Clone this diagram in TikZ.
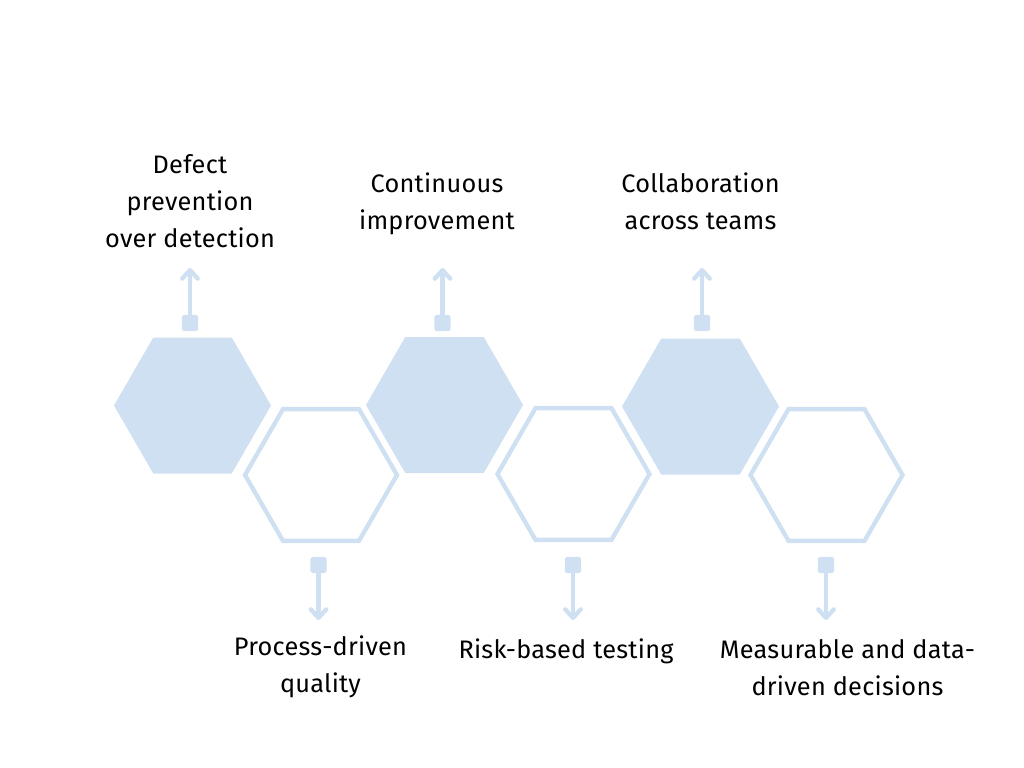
\documentclass[tikz,border=0pt]{standalone}
\usepackage{fontspec}
\setmainfont[LetterSpace=1]{Fira Sans}
\usetikzlibrary{arrows.meta,shapes.geometric}
\definecolor{hexblue}{HTML}{CFE0F2}
\tikzset{
    hexfull/.style={regular polygon, regular polygon sides=6, minimum size=157*0.7113pt, inner sep=0pt, outer sep=0pt, fill=hexblue},
    hexline/.style={regular polygon, regular polygon sides=6, minimum size=152*0.7113pt, inner sep=0pt, outer sep=0pt, draw=hexblue, line width=3.1pt},
    pin/.style={rectangle, rounded corners=1.2pt, minimum size=11.4pt, inner sep=0pt, outer sep=0pt, fill=hexblue},
    lead/.style={draw=hexblue, line width=2.9pt, -{Straight Barb[round,length=6pt,width=11pt,line width=3.1pt]}},
    label/.style={align=center, text=black, font=\fontsize{18}{26.3}\selectfont}
}
\begin{document}
\begin{tikzpicture}[x=0.025cm,y=-0.025cm]
    \useasboundingbox (0,0) rectangle (1024,768);

    \node[hexfull] (hexa) at (192.5,405.5) {};
    \node[hexline] (hexb) at (321,475) {};
    \node[hexfull] (hexc) at (444.5,405) {};
    \node[hexline] (hexd) at (573.5,474) {};
    \node[hexfull] (hexe) at (700.5,406.5) {};
    \node[hexline] (hexf) at (826.5,475) {};

    \node[pin] (pina) at (190,323) {};
    \node[pin] (pinb) at (318.5,565) {};
    \node[pin] (pinc) at (442.5,323) {};
    \node[pin] (pind) at (573,565) {};
    \node[pin] (pine) at (702,323) {};
    \node[pin] (pinf) at (826,565) {};

    \coordinate (tipa) at (190,268);
    \coordinate (tipb) at (318.5,620);
    \coordinate (tipc) at (442.5,268);
    \coordinate (tipd) at (573,620);
    \coordinate (tipe) at (702,268);
    \coordinate (tipf) at (826,620);

    \draw[lead] (pina) -- (tipa);
    \draw[lead] (pinb) -- (tipb);
    \draw[lead] (pinc) -- (tipc);
    \draw[lead] (pind) -- (tipd);
    \draw[lead] (pine) -- (tipe);
    \draw[lead] (pinf) -- (tipf);

    \node[label] (texta) at (190,201) {Defect\\prevention\\over detection};
    \node[label] (textb) at (320.5,667) {Process-driven\\quality};
    \node[label] (textc) at (437,203.5) {Continuous\\improvement};
    \node[label] (textd) at (566,651.5) {Risk-based testing};
    \node[label] (texte) at (700.5,201) {Collaboration\\across teams};
    \node[label] (textf) at (847.5,667.5) {Measurable and data-\\driven decisions};
\end{tikzpicture}
\end{document}
